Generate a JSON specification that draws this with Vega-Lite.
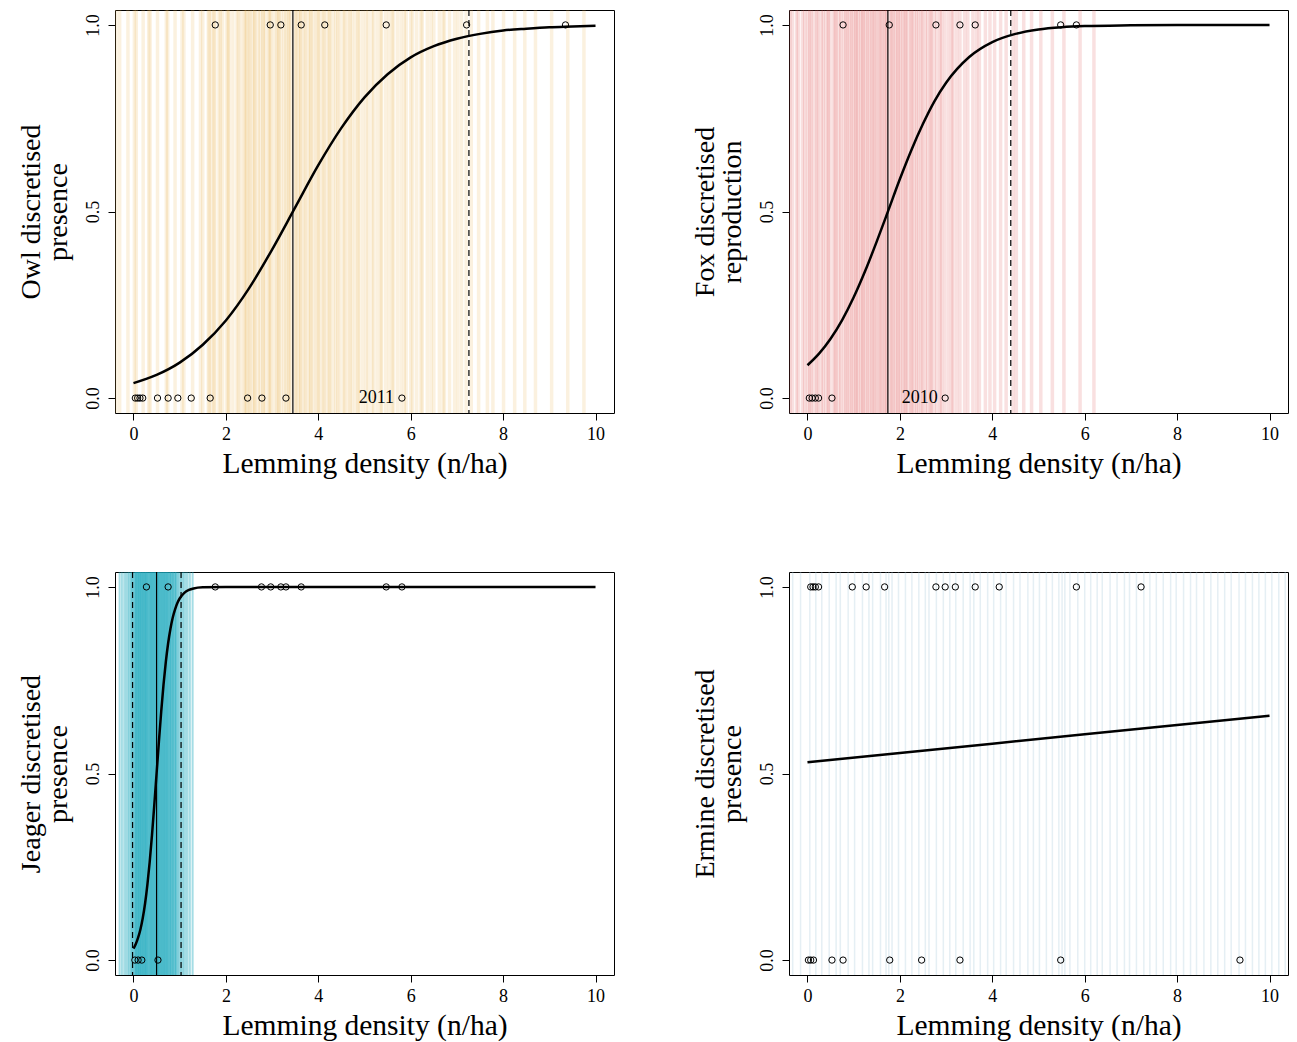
{
  "$schema": "https://vega.github.io/schema/vega-lite/v6.json",
  "padding": {"left": 16, "top": 8, "right": 5, "bottom": 5},
  "background": "white",
  "columns": 2,
  "bounds": "flush",
  "spacing": {"row": 159, "column": 175},
  "config": {
    "font": "Liberation Serif",
    "view": {"stroke": "black", "strokeWidth": 1},
    "axis": {"grid": false, "domain": false, "tickColor": "black", "tickSize": 7, "labelFont": "Liberation Serif", "labelFontSize": 18, "labelColor": "black", "labelPadding": 5, "titleFont": "Liberation Serif", "titleFontSize": 28, "titleFontWeight": "normal", "titleColor": "black"},
    "axisY": {"labelAngle": -90, "labelAlign": "center", "labelBaseline": "bottom", "labelPadding": 6, "titlePadding": 12, "titleLineHeight": 27},
    "axisX": {"titlePadding": 6, "titleFontSize": 29.5}
  },
  "datasets": {
    "lines": [
      {"panel":"owl","x":-0.38},{"panel":"owl","x":-0.3},{"panel":"owl","x":-0.12},{"panel":"owl","x":0.02},{"panel":"owl","x":0.06},{"panel":"owl","x":0.21},{"panel":"owl","x":0.33},{"panel":"owl","x":0.36},{"panel":"owl","x":0.52},{"panel":"owl","x":0.71},{"panel":"owl","x":0.74},{"panel":"owl","x":0.9},{"panel":"owl","x":1.05},{"panel":"owl","x":1.09},{"panel":"owl","x":1.28},{"panel":"owl","x":1.45},{"panel":"owl","x":1.5},
      {"panel":"owl","x":1.62},{"panel":"owl","x":1.64},{"panel":"owl","x":1.69},{"panel":"owl","x":1.74},{"panel":"owl","x":1.76},{"panel":"owl","x":1.85},{"panel":"owl","x":1.88},{"panel":"owl","x":1.93},{"panel":"owl","x":2.02},{"panel":"owl","x":2.05},{"panel":"owl","x":2.07},{"panel":"owl","x":2.15},{"panel":"owl","x":2.24},{"panel":"owl","x":2.27},{"panel":"owl","x":2.33},
      {"panel":"owl","x":2.4},{"panel":"owl","x":2.42},{"panel":"owl","x":2.45},{"panel":"owl","x":2.5},{"panel":"owl","x":2.52},{"panel":"owl","x":2.58},{"panel":"owl","x":2.62},{"panel":"owl","x":2.63},{"panel":"owl","x":2.7},{"panel":"owl","x":2.74},{"panel":"owl","x":2.8},{"panel":"owl","x":2.81},{"panel":"owl","x":2.86},{"panel":"owl","x":2.93},{"panel":"owl","x":2.95},{"panel":"owl","x":2.97},{"panel":"owl","x":3.04},{"panel":"owl","x":3.1},{"panel":"owl","x":3.13},{"panel":"owl","x":3.15},{"panel":"owl","x":3.2},{"panel":"owl","x":3.26},{"panel":"owl","x":3.3},{"panel":"owl","x":3.35},{"panel":"owl","x":3.37},{"panel":"owl","x":3.41},
      {"panel":"owl","x":3.5},{"panel":"owl","x":3.52},{"panel":"owl","x":3.57},{"panel":"owl","x":3.61},{"panel":"owl","x":3.62},{"panel":"owl","x":3.69},{"panel":"owl","x":3.72},{"panel":"owl","x":3.78},{"panel":"owl","x":3.83},{"panel":"owl","x":3.84},{"panel":"owl","x":3.9},{"panel":"owl","x":3.96},{"panel":"owl","x":4.0},{"panel":"owl","x":4.03},{"panel":"owl","x":4.1},{"panel":"owl","x":4.12},{"panel":"owl","x":4.18},{"panel":"owl","x":4.24},{"panel":"owl","x":4.25},{"panel":"owl","x":4.32},{"panel":"owl","x":4.38},{"panel":"owl","x":4.42},{"panel":"owl","x":4.47},{"panel":"owl","x":4.55},{"panel":"owl","x":4.57},{"panel":"owl","x":4.64},{"panel":"owl","x":4.69},{"panel":"owl","x":4.73},{"panel":"owl","x":4.8},{"panel":"owl","x":4.86},{"panel":"owl","x":4.88},{"panel":"owl","x":4.96},
      {"panel":"owl","x":5.03},{"panel":"owl","x":5.08},{"panel":"owl","x":5.16},{"panel":"owl","x":5.2},{"panel":"owl","x":5.28},{"panel":"owl","x":5.35},{"panel":"owl","x":5.37},{"panel":"owl","x":5.46},{"panel":"owl","x":5.53},{"panel":"owl","x":5.6},{"panel":"owl","x":5.62},{"panel":"owl","x":5.71},{"panel":"owl","x":5.79},{"panel":"owl","x":5.86},{"panel":"owl","x":5.9},{"panel":"owl","x":6.0},{"panel":"owl","x":6.04},{"panel":"owl","x":6.13},{"panel":"owl","x":6.22},{"panel":"owl","x":6.25},{"panel":"owl","x":6.36},{"panel":"owl","x":6.44},{"panel":"owl","x":6.5},{"panel":"owl","x":6.62},{"panel":"owl","x":6.7},{"panel":"owl","x":6.73},{"panel":"owl","x":6.84},{"panel":"owl","x":6.95},{"panel":"owl","x":7.02},{"panel":"owl","x":7.1},{"panel":"owl","x":7.2},
      {"panel":"owl","x":7.31},{"panel":"owl","x":7.47},{"panel":"owl","x":7.66},{"panel":"owl","x":7.78},{"panel":"owl","x":8.01},{"panel":"owl","x":8.25},{"panel":"owl","x":8.47},{"panel":"owl","x":8.7},{"panel":"owl","x":9.05},{"panel":"owl","x":9.4},{"panel":"owl","x":9.75},
      {"panel":"fox","x":-0.38},{"panel":"fox","x":-0.33},{"panel":"fox","x":-0.24},{"panel":"fox","x":-0.2},{"panel":"fox","x":-0.11},{"panel":"fox","x":-0.06},{"panel":"fox","x":0.0},{"panel":"fox","x":0.05},{"panel":"fox","x":0.08},{"panel":"fox","x":0.14},{"panel":"fox","x":0.2},{"panel":"fox","x":0.23},{"panel":"fox","x":0.3},{"panel":"fox","x":0.34},{"panel":"fox","x":0.4},{"panel":"fox","x":0.45},{"panel":"fox","x":0.47},{"panel":"fox","x":0.55},{"panel":"fox","x":0.6},{"panel":"fox","x":0.62},{"panel":"fox","x":0.68},{"panel":"fox","x":0.72},{"panel":"fox","x":0.78},{"panel":"fox","x":0.83},{"panel":"fox","x":0.86},{"panel":"fox","x":0.91},{"panel":"fox","x":0.95},{"panel":"fox","x":0.99},{"panel":"fox","x":1.04},{"panel":"fox","x":1.06},{"panel":"fox","x":1.1},{"panel":"fox","x":1.15},{"panel":"fox","x":1.19},{"panel":"fox","x":1.21},{"panel":"fox","x":1.26},{"panel":"fox","x":1.3},{"panel":"fox","x":1.34},{"panel":"fox","x":1.39},{"panel":"fox","x":1.42},{"panel":"fox","x":1.46},{"panel":"fox","x":1.5},{"panel":"fox","x":1.55},{"panel":"fox","x":1.58},{"panel":"fox","x":1.62},{"panel":"fox","x":1.66},{"panel":"fox","x":1.7},{"panel":"fox","x":1.72},{"panel":"fox","x":1.79},{"panel":"fox","x":1.82},{"panel":"fox","x":1.86},{"panel":"fox","x":1.9},{"panel":"fox","x":1.95},{"panel":"fox","x":1.97},{"panel":"fox","x":2.02},{"panel":"fox","x":2.06},{"panel":"fox","x":2.11},{"panel":"fox","x":2.13},{"panel":"fox","x":2.18},{"panel":"fox","x":2.24},{"panel":"fox","x":2.26},{"panel":"fox","x":2.31},{"panel":"fox","x":2.36},{"panel":"fox","x":2.4},{"panel":"fox","x":2.46},{"panel":"fox","x":2.49},{"panel":"fox","x":2.55},{"panel":"fox","x":2.6},{"panel":"fox","x":2.66},{"panel":"fox","x":2.68},{"panel":"fox","x":2.74},{"panel":"fox","x":2.8},{"panel":"fox","x":2.87},{"panel":"fox","x":2.9},{"panel":"fox","x":2.97},{"panel":"fox","x":3.05},{"panel":"fox","x":3.12},{"panel":"fox","x":3.15},{"panel":"fox","x":3.23},{"panel":"fox","x":3.3},{"panel":"fox","x":3.4},{"panel":"fox","x":3.47},{"panel":"fox","x":3.58},{"panel":"fox","x":3.66},{"panel":"fox","x":3.72},{"panel":"fox","x":3.85},{"panel":"fox","x":3.95},{"panel":"fox","x":4.05},{"panel":"fox","x":4.18},{"panel":"fox","x":4.3},{"panel":"fox","x":4.45},{"panel":"fox","x":4.52},{"panel":"fox","x":4.68},{"panel":"fox","x":4.85},{"panel":"fox","x":5.05},{"panel":"fox","x":5.3},{"panel":"fox","x":5.55},{"panel":"fox","x":5.9},{"panel":"fox","x":6.2},
      {"panel":"jaeger","x":-0.3},{"panel":"jaeger","x":-0.25},{"panel":"jaeger","x":-0.2},{"panel":"jaeger","x":-0.16},{"panel":"jaeger","x":-0.12},{"panel":"jaeger","x":-0.09},{"panel":"jaeger","x":-0.06},{"panel":"jaeger","x":-0.04},{"panel":"jaeger","x":-0.02},{"panel":"jaeger","x":0.0},{"panel":"jaeger","x":0.02},{"panel":"jaeger","x":0.04},{"panel":"jaeger","x":0.05},{"panel":"jaeger","x":0.06},{"panel":"jaeger","x":0.07},{"panel":"jaeger","x":0.09},{"panel":"jaeger","x":0.1},{"panel":"jaeger","x":0.11},{"panel":"jaeger","x":0.12},{"panel":"jaeger","x":0.14},{"panel":"jaeger","x":0.15},{"panel":"jaeger","x":0.16},{"panel":"jaeger","x":0.17},{"panel":"jaeger","x":0.19},{"panel":"jaeger","x":0.2},{"panel":"jaeger","x":0.21},{"panel":"jaeger","x":0.22},{"panel":"jaeger","x":0.24},{"panel":"jaeger","x":0.25},{"panel":"jaeger","x":0.26},{"panel":"jaeger","x":0.27},{"panel":"jaeger","x":0.29},{"panel":"jaeger","x":0.3},{"panel":"jaeger","x":0.31},{"panel":"jaeger","x":0.33},{"panel":"jaeger","x":0.34},{"panel":"jaeger","x":0.36},{"panel":"jaeger","x":0.37},{"panel":"jaeger","x":0.38},{"panel":"jaeger","x":0.4},{"panel":"jaeger","x":0.41},{"panel":"jaeger","x":0.42},{"panel":"jaeger","x":0.44},{"panel":"jaeger","x":0.45},{"panel":"jaeger","x":0.46},{"panel":"jaeger","x":0.48},{"panel":"jaeger","x":0.49},{"panel":"jaeger","x":0.5},{"panel":"jaeger","x":0.52},{"panel":"jaeger","x":0.53},{"panel":"jaeger","x":0.54},{"panel":"jaeger","x":0.55},{"panel":"jaeger","x":0.57},{"panel":"jaeger","x":0.58},{"panel":"jaeger","x":0.59},{"panel":"jaeger","x":0.61},{"panel":"jaeger","x":0.62},{"panel":"jaeger","x":0.63},{"panel":"jaeger","x":0.65},{"panel":"jaeger","x":0.66},{"panel":"jaeger","x":0.67},{"panel":"jaeger","x":0.69},{"panel":"jaeger","x":0.7},{"panel":"jaeger","x":0.71},{"panel":"jaeger","x":0.73},{"panel":"jaeger","x":0.74},{"panel":"jaeger","x":0.75},{"panel":"jaeger","x":0.77},{"panel":"jaeger","x":0.79},{"panel":"jaeger","x":0.8},{"panel":"jaeger","x":0.81},{"panel":"jaeger","x":0.83},{"panel":"jaeger","x":0.85},{"panel":"jaeger","x":0.86},{"panel":"jaeger","x":0.87},{"panel":"jaeger","x":0.9},{"panel":"jaeger","x":0.91},{"panel":"jaeger","x":0.92},{"panel":"jaeger","x":0.95},{"panel":"jaeger","x":0.97},{"panel":"jaeger","x":1.0},{"panel":"jaeger","x":1.03},{"panel":"jaeger","x":1.06},{"panel":"jaeger","x":1.09},{"panel":"jaeger","x":1.13},{"panel":"jaeger","x":1.17},{"panel":"jaeger","x":1.22},{"panel":"jaeger","x":1.28},
      {"panel":"ermine","x":-0.32},{"panel":"ermine","x":-0.15},{"panel":"ermine","x":0.05},{"panel":"ermine","x":0.18},{"panel":"ermine","x":0.31},{"panel":"ermine","x":0.47},{"panel":"ermine","x":0.62},{"panel":"ermine","x":0.71},{"panel":"ermine","x":0.88},{"panel":"ermine","x":1.02},{"panel":"ermine","x":1.19},{"panel":"ermine","x":1.33},{"panel":"ermine","x":1.41},{"panel":"ermine","x":1.58},{"panel":"ermine","x":1.7},{"panel":"ermine","x":1.76},{"panel":"ermine","x":1.83},{"panel":"ermine","x":1.97},{"panel":"ermine","x":2.12},{"panel":"ermine","x":2.26},{"panel":"ermine","x":2.41},{"panel":"ermine","x":2.55},{"panel":"ermine","x":2.63},{"panel":"ermine","x":2.79},{"panel":"ermine","x":2.94},{"panel":"ermine","x":3.08},{"panel":"ermine","x":3.21},{"panel":"ermine","x":3.37},{"panel":"ermine","x":3.52},{"panel":"ermine","x":3.6},{"panel":"ermine","x":3.74},{"panel":"ermine","x":3.9},{"panel":"ermine","x":4.03},{"panel":"ermine","x":4.18},{"panel":"ermine","x":4.3},{"panel":"ermine","x":4.46},{"panel":"ermine","x":4.6},{"panel":"ermine","x":4.77},{"panel":"ermine","x":4.89},{"panel":"ermine","x":5.02},{"panel":"ermine","x":5.17},{"panel":"ermine","x":5.3},{"panel":"ermine","x":5.44},{"panel":"ermine","x":5.51},{"panel":"ermine","x":5.57},{"panel":"ermine","x":5.68},{"panel":"ermine","x":5.85},{"panel":"ermine","x":6.0},{"panel":"ermine","x":6.13},{"panel":"ermine","x":6.27},{"panel":"ermine","x":6.38},{"panel":"ermine","x":6.55},{"panel":"ermine","x":6.7},{"panel":"ermine","x":6.86},{"panel":"ermine","x":6.97},{"panel":"ermine","x":7.12},{"panel":"ermine","x":7.28},{"panel":"ermine","x":7.41},{"panel":"ermine","x":7.55},{"panel":"ermine","x":7.7},{"panel":"ermine","x":7.86},{"panel":"ermine","x":7.98},{"panel":"ermine","x":8.14},{"panel":"ermine","x":8.29},{"panel":"ermine","x":8.42},{"panel":"ermine","x":8.58},{"panel":"ermine","x":8.73},{"panel":"ermine","x":8.88},{"panel":"ermine","x":9.03},{"panel":"ermine","x":9.17},{"panel":"ermine","x":9.34},{"panel":"ermine","x":9.48},{"panel":"ermine","x":9.63},{"panel":"ermine","x":9.77},{"panel":"ermine","x":9.91},{"panel":"ermine","x":10.05},{"panel":"ermine","x":10.2},{"panel":"ermine","x":10.34}
    ],
    "ci": [
      {"panel":"owl","x":3.45,"kind":"median"},{"panel":"owl","x":7.26,"kind":"ci"},
      {"panel":"fox","x":1.74,"kind":"median"},{"panel":"fox","x":4.40,"kind":"ci"},
      {"panel":"jaeger","x":0.50,"kind":"median"},{"panel":"jaeger","x":-0.02,"kind":"ci"},{"panel":"jaeger","x":1.03,"kind":"ci"}
    ],
    "curve": [
      {"panel":"owl","x":0,"p":0.040},{"panel":"owl","x":0.5,"p":0.062},{"panel":"owl","x":1,"p":0.095},{"panel":"owl","x":1.5,"p":0.143},{"panel":"owl","x":2,"p":0.208},{"panel":"owl","x":2.5,"p":0.294},{"panel":"owl","x":3,"p":0.398},{"panel":"owl","x":3.5,"p":0.511},{"panel":"owl","x":4,"p":0.624},{"panel":"owl","x":4.5,"p":0.724},{"panel":"owl","x":5,"p":0.806},{"panel":"owl","x":5.5,"p":0.868},{"panel":"owl","x":6,"p":0.913},{"panel":"owl","x":6.5,"p":0.943},{"panel":"owl","x":7,"p":0.963},{"panel":"owl","x":7.5,"p":0.976},{"panel":"owl","x":8,"p":0.985},{"panel":"owl","x":8.5,"p":0.990},{"panel":"owl","x":9,"p":0.994},{"panel":"owl","x":9.5,"p":0.996},{"panel":"owl","x":10,"p":0.998},
      {"panel":"fox","x":0,"p":0.088},{"panel":"fox","x":0.25,"p":0.119},{"panel":"fox","x":0.5,"p":0.159},{"panel":"fox","x":0.75,"p":0.209},{"panel":"fox","x":1,"p":0.270},{"panel":"fox","x":1.25,"p":0.341},{"panel":"fox","x":1.5,"p":0.420},{"panel":"fox","x":1.75,"p":0.503},{"panel":"fox","x":2,"p":0.587},{"panel":"fox","x":2.25,"p":0.665},{"panel":"fox","x":2.5,"p":0.735},{"panel":"fox","x":2.75,"p":0.796},{"panel":"fox","x":3,"p":0.845},{"panel":"fox","x":3.5,"p":0.914},{"panel":"fox","x":4,"p":0.954},{"panel":"fox","x":4.5,"p":0.976},{"panel":"fox","x":5,"p":0.988},{"panel":"fox","x":5.5,"p":0.994},{"panel":"fox","x":6,"p":0.997},{"panel":"fox","x":7,"p":0.999},{"panel":"fox","x":8,"p":1.0},{"panel":"fox","x":10,"p":1.0},
      {"panel":"jaeger","x":0,"p":0.031},{"panel":"jaeger","x":0.05,"p":0.043},{"panel":"jaeger","x":0.1,"p":0.060},{"panel":"jaeger","x":0.15,"p":0.082},{"panel":"jaeger","x":0.2,"p":0.112},{"panel":"jaeger","x":0.25,"p":0.151},{"panel":"jaeger","x":0.3,"p":0.201},{"panel":"jaeger","x":0.35,"p":0.262},{"panel":"jaeger","x":0.4,"p":0.334},{"panel":"jaeger","x":0.45,"p":0.415},{"panel":"jaeger","x":0.5,"p":0.5},{"panel":"jaeger","x":0.55,"p":0.585},{"panel":"jaeger","x":0.6,"p":0.666},{"panel":"jaeger","x":0.65,"p":0.738},{"panel":"jaeger","x":0.7,"p":0.799},{"panel":"jaeger","x":0.75,"p":0.849},{"panel":"jaeger","x":0.8,"p":0.888},{"panel":"jaeger","x":0.85,"p":0.918},{"panel":"jaeger","x":0.9,"p":0.940},{"panel":"jaeger","x":0.95,"p":0.957},{"panel":"jaeger","x":1.0,"p":0.969},{"panel":"jaeger","x":1.1,"p":0.984},{"panel":"jaeger","x":1.2,"p":0.992},{"panel":"jaeger","x":1.3,"p":0.996},{"panel":"jaeger","x":1.5,"p":0.999},{"panel":"jaeger","x":2,"p":1.0},{"panel":"jaeger","x":10,"p":1.0},
      {"panel":"ermine","x":0,"p":0.530},{"panel":"ermine","x":2,"p":0.555},{"panel":"ermine","x":4,"p":0.580},{"panel":"ermine","x":6,"p":0.605},{"panel":"ermine","x":8,"p":0.630},{"panel":"ermine","x":10,"p":0.655}
    ],
    "obs": [
      {"panel":"owl","x":1.77,"y":1},{"panel":"owl","x":2.96,"y":1},{"panel":"owl","x":3.19,"y":1},{"panel":"owl","x":3.63,"y":1},{"panel":"owl","x":4.14,"y":1},{"panel":"owl","x":5.47,"y":1},{"panel":"owl","x":7.21,"y":1},{"panel":"owl","x":9.35,"y":1},
      {"panel":"owl","x":0.04,"y":0},{"panel":"owl","x":0.09,"y":0},{"panel":"owl","x":0.14,"y":0},{"panel":"owl","x":0.2,"y":0},{"panel":"owl","x":0.52,"y":0},{"panel":"owl","x":0.75,"y":0},{"panel":"owl","x":0.96,"y":0},{"panel":"owl","x":1.25,"y":0},{"panel":"owl","x":1.66,"y":0},{"panel":"owl","x":2.47,"y":0},{"panel":"owl","x":2.78,"y":0},{"panel":"owl","x":3.30,"y":0},{"panel":"owl","x":5.81,"y":0},
      {"panel":"fox","x":0.77,"y":1},{"panel":"fox","x":1.77,"y":1},{"panel":"fox","x":2.78,"y":1},{"panel":"fox","x":3.30,"y":1},{"panel":"fox","x":3.63,"y":1},{"panel":"fox","x":5.48,"y":1},{"panel":"fox","x":5.82,"y":1},
      {"panel":"fox","x":0.04,"y":0},{"panel":"fox","x":0.1,"y":0},{"panel":"fox","x":0.17,"y":0},{"panel":"fox","x":0.24,"y":0},{"panel":"fox","x":0.53,"y":0},{"panel":"fox","x":2.98,"y":0},
      {"panel":"jaeger","x":0.28,"y":1},{"panel":"jaeger","x":0.75,"y":1},{"panel":"jaeger","x":1.77,"y":1},{"panel":"jaeger","x":2.77,"y":1},{"panel":"jaeger","x":2.97,"y":1},{"panel":"jaeger","x":3.19,"y":1},{"panel":"jaeger","x":3.30,"y":1},{"panel":"jaeger","x":3.63,"y":1},{"panel":"jaeger","x":5.47,"y":1},{"panel":"jaeger","x":5.81,"y":1},
      {"panel":"jaeger","x":0.03,"y":0},{"panel":"jaeger","x":0.1,"y":0},{"panel":"jaeger","x":0.18,"y":0},{"panel":"jaeger","x":0.53,"y":0},
      {"panel":"ermine","x":0.07,"y":1},{"panel":"ermine","x":0.12,"y":1},{"panel":"ermine","x":0.17,"y":1},{"panel":"ermine","x":0.24,"y":1},{"panel":"ermine","x":0.97,"y":1},{"panel":"ermine","x":1.27,"y":1},{"panel":"ermine","x":1.67,"y":1},{"panel":"ermine","x":2.78,"y":1},{"panel":"ermine","x":2.98,"y":1},{"panel":"ermine","x":3.20,"y":1},{"panel":"ermine","x":3.63,"y":1},{"panel":"ermine","x":4.15,"y":1},{"panel":"ermine","x":5.82,"y":1},{"panel":"ermine","x":7.22,"y":1},
      {"panel":"ermine","x":0.02,"y":0},{"panel":"ermine","x":0.07,"y":0},{"panel":"ermine","x":0.13,"y":0},{"panel":"ermine","x":0.53,"y":0},{"panel":"ermine","x":0.77,"y":0},{"panel":"ermine","x":1.78,"y":0},{"panel":"ermine","x":2.47,"y":0},{"panel":"ermine","x":3.30,"y":0},{"panel":"ermine","x":5.48,"y":0},{"panel":"ermine","x":9.36,"y":0}
    ],
    "lab": [
      {"panel":"owl","x":5.64,"y":0,"text":"2011"},
      {"panel":"fox","x":2.82,"y":0,"text":"2010"}
    ]
  },
  "concat": [
    {
      "width": 499, "height": 403,
      "layer": [
        {"data": {"name": "lines"}, "transform": [{"filter": "datum.panel === 'owl'"}],
         "mark": {"type": "rule", "color": "#E9B450", "opacity": 0.18, "strokeWidth": 3.5, "clip": true},
         "encoding": {"x": {"field": "x", "type": "quantitative", "scale": {"domain": [-0.4, 10.4], "nice": false, "zero": false}, "axis": {"values": [0, 2, 4, 6, 8, 10], "title": "Lemming density (n/ha)"}}}},
        {"data": {"name": "ci"}, "transform": [{"filter": "datum.panel === 'owl' && datum.kind === 'median'"}],
         "mark": {"type": "rule", "color": "black", "strokeWidth": 1.2}, "encoding": {"x": {"field": "x", "type": "quantitative"}}},
        {"data": {"name": "ci"}, "transform": [{"filter": "datum.panel === 'owl' && datum.kind === 'ci'"}],
         "mark": {"type": "rule", "color": "black", "strokeWidth": 1.2, "strokeDash": [6, 4]}, "encoding": {"x": {"field": "x", "type": "quantitative"}}},
        {"data": {"name": "curve"}, "transform": [{"filter": "datum.panel === 'owl'"}],
         "mark": {"type": "line", "color": "black", "strokeWidth": 2.5, "interpolate": "monotone"},
         "encoding": {"x": {"field": "x", "type": "quantitative"}, "y": {"field": "p", "type": "quantitative", "scale": {"domain": [-0.04, 1.04], "nice": false, "zero": false}, "axis": {"values": [0, 0.5, 1], "format": ".1f", "title": ["Owl discretised", "presence"]}}}},
        {"data": {"name": "obs"}, "transform": [{"filter": "datum.panel === 'owl'"}],
         "mark": {"type": "point", "shape": "circle", "filled": false, "color": "black", "size": 40, "strokeWidth": 1, "opacity": 1},
         "encoding": {"x": {"field": "x", "type": "quantitative"}, "y": {"field": "y", "type": "quantitative"}}},
        {"data": {"name": "lab"}, "transform": [{"filter": "datum.panel === 'owl'"}],
         "mark": {"type": "text", "align": "right", "baseline": "middle", "fontSize": 18, "font": "Liberation Serif", "color": "black"},
         "encoding": {"x": {"field": "x", "type": "quantitative"}, "y": {"field": "y", "type": "quantitative"}, "text": {"field": "text"}}}
      ]
    },
    {
      "width": 499, "height": 403,
      "layer": [
        {"data": {"name": "lines"}, "transform": [{"filter": "datum.panel === 'fox'"}],
         "mark": {"type": "rule", "color": "#E05555", "opacity": 0.18, "strokeWidth": 3.5, "clip": true},
         "encoding": {"x": {"field": "x", "type": "quantitative", "scale": {"domain": [-0.4, 10.4], "nice": false, "zero": false}, "axis": {"values": [0, 2, 4, 6, 8, 10], "title": "Lemming density (n/ha)"}}}},
        {"data": {"name": "ci"}, "transform": [{"filter": "datum.panel === 'fox' && datum.kind === 'median'"}],
         "mark": {"type": "rule", "color": "black", "strokeWidth": 1.2}, "encoding": {"x": {"field": "x", "type": "quantitative"}}},
        {"data": {"name": "ci"}, "transform": [{"filter": "datum.panel === 'fox' && datum.kind === 'ci'"}],
         "mark": {"type": "rule", "color": "black", "strokeWidth": 1.2, "strokeDash": [6, 4]}, "encoding": {"x": {"field": "x", "type": "quantitative"}}},
        {"data": {"name": "curve"}, "transform": [{"filter": "datum.panel === 'fox'"}],
         "mark": {"type": "line", "color": "black", "strokeWidth": 2.5, "interpolate": "monotone"},
         "encoding": {"x": {"field": "x", "type": "quantitative"}, "y": {"field": "p", "type": "quantitative", "scale": {"domain": [-0.04, 1.04], "nice": false, "zero": false}, "axis": {"values": [0, 0.5, 1], "format": ".1f", "title": ["Fox discretised", "reproduction"]}}}},
        {"data": {"name": "obs"}, "transform": [{"filter": "datum.panel === 'fox'"}],
         "mark": {"type": "point", "shape": "circle", "filled": false, "color": "black", "size": 40, "strokeWidth": 1, "opacity": 1},
         "encoding": {"x": {"field": "x", "type": "quantitative"}, "y": {"field": "y", "type": "quantitative"}}},
        {"data": {"name": "lab"}, "transform": [{"filter": "datum.panel === 'fox'"}],
         "mark": {"type": "text", "align": "right", "baseline": "middle", "fontSize": 18, "font": "Liberation Serif", "color": "black"},
         "encoding": {"x": {"field": "x", "type": "quantitative"}, "y": {"field": "y", "type": "quantitative"}, "text": {"field": "text"}}}
      ]
    },
    {
      "width": 499, "height": 403,
      "layer": [
        {"data": {"name": "lines"}, "transform": [{"filter": "datum.panel === 'jaeger'"}],
         "mark": {"type": "rule", "color": "#1FA9BD", "opacity": 0.4, "strokeWidth": 2, "clip": true},
         "encoding": {"x": {"field": "x", "type": "quantitative", "scale": {"domain": [-0.4, 10.4], "nice": false, "zero": false}, "axis": {"values": [0, 2, 4, 6, 8, 10], "title": "Lemming density (n/ha)"}}}},
        {"data": {"name": "ci"}, "transform": [{"filter": "datum.panel === 'jaeger' && datum.kind === 'median'"}],
         "mark": {"type": "rule", "color": "black", "strokeWidth": 1.2}, "encoding": {"x": {"field": "x", "type": "quantitative"}}},
        {"data": {"name": "ci"}, "transform": [{"filter": "datum.panel === 'jaeger' && datum.kind === 'ci'"}],
         "mark": {"type": "rule", "color": "black", "strokeWidth": 1.2, "strokeDash": [6, 4]}, "encoding": {"x": {"field": "x", "type": "quantitative"}}},
        {"data": {"name": "curve"}, "transform": [{"filter": "datum.panel === 'jaeger'"}],
         "mark": {"type": "line", "color": "black", "strokeWidth": 2.5, "interpolate": "monotone"},
         "encoding": {"x": {"field": "x", "type": "quantitative"}, "y": {"field": "p", "type": "quantitative", "scale": {"domain": [-0.04, 1.04], "nice": false, "zero": false}, "axis": {"values": [0, 0.5, 1], "format": ".1f", "title": ["Jeager discretised", "presence"]}}}},
        {"data": {"name": "obs"}, "transform": [{"filter": "datum.panel === 'jaeger'"}],
         "mark": {"type": "point", "shape": "circle", "filled": false, "color": "black", "size": 40, "strokeWidth": 1, "opacity": 1},
         "encoding": {"x": {"field": "x", "type": "quantitative"}, "y": {"field": "y", "type": "quantitative"}}}
      ]
    },
    {
      "width": 499, "height": 403,
      "layer": [
        {"data": {"name": "lines"}, "transform": [{"filter": "datum.panel === 'ermine'"}],
         "mark": {"type": "rule", "color": "#A9CADB", "opacity": 0.3, "strokeWidth": 1.5, "clip": true},
         "encoding": {"x": {"field": "x", "type": "quantitative", "scale": {"domain": [-0.4, 10.4], "nice": false, "zero": false}, "axis": {"values": [0, 2, 4, 6, 8, 10], "title": "Lemming density (n/ha)"}}}},
        {"data": {"name": "curve"}, "transform": [{"filter": "datum.panel === 'ermine'"}],
         "mark": {"type": "line", "color": "black", "strokeWidth": 2.5},
         "encoding": {"x": {"field": "x", "type": "quantitative"}, "y": {"field": "p", "type": "quantitative", "scale": {"domain": [-0.04, 1.04], "nice": false, "zero": false}, "axis": {"values": [0, 0.5, 1], "format": ".1f", "title": ["Ermine discretised", "presence"]}}}},
        {"data": {"name": "obs"}, "transform": [{"filter": "datum.panel === 'ermine'"}],
         "mark": {"type": "point", "shape": "circle", "filled": false, "color": "black", "size": 40, "strokeWidth": 1, "opacity": 1},
         "encoding": {"x": {"field": "x", "type": "quantitative"}, "y": {"field": "y", "type": "quantitative"}}}
      ]
    }
  ]
}
